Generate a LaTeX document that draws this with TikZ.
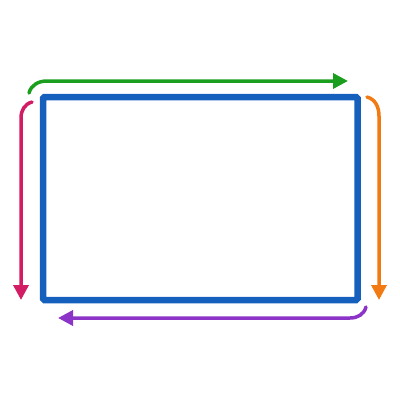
\documentclass[tikz,border=0pt]{standalone}
\usetikzlibrary{arrows.meta}
\definecolor{rectblue}{RGB}{21,96,189}
\definecolor{arrgreen}{RGB}{26,158,30}
\definecolor{arrorange}{RGB}{242,122,18}
\definecolor{arrpurple}{RGB}{140,52,200}
\definecolor{arrmagenta}{RGB}{210,28,100}
\begin{document}
\begin{tikzpicture}[x=1pt,y=1pt,
  flow/.style={line width=3.5pt,line cap=round,-{Triangle[length=15pt,width=15pt]}},
  frame/.style={draw=rectblue,line width=6.5pt,rounded corners=1.5pt}]
\useasboundingbox (0,0) rectangle (400,-400);
\draw[frame] (43,-97) rectangle (357.5,-300);
% free ends
\coordinate (gS) at (29,-93);  \coordinate (gC) at (47,-81);  \coordinate (gE) at (348,-81);
\coordinate (oS) at (367,-97); \coordinate (oC) at (379,-116); \coordinate (oE) at (379,-300);
\coordinate (pS) at (366,-307);\coordinate (pC) at (350,-318); \coordinate (pE) at (58,-318);
\coordinate (mS) at (32,-102); \coordinate (mC) at (21,-118);  \coordinate (mE) at (21,-300);
\draw[flow,arrgreen]   (gS) to[out=75,in=180]  (gC) -- (gE);
\draw[flow,arrorange]  (oS) to[out=-15,in=90]  (oC) -- (oE);
\draw[flow,arrpurple]  (pS) to[out=-105,in=0]  (pC) -- (pE);
\draw[flow,arrmagenta] (mS) to[out=195,in=90]  (mC) -- (mE);
\end{tikzpicture}
\end{document}
